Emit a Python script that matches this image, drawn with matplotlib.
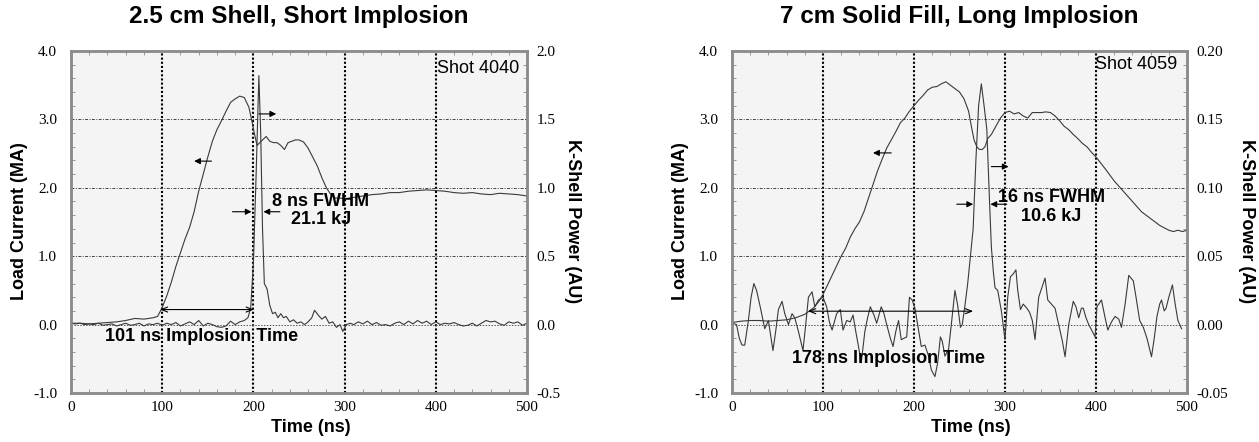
import matplotlib
matplotlib.use('Agg')
import matplotlib.pyplot as plt
from matplotlib.ticker import MultipleLocator, FormatStrFormatter

plt.rcParams['axes.unicode_minus'] = False

# Shot 4040 (2.5 cm shell) - load current (MA) vs time (ns)
cur1_t = [0, 10, 20, 30, 40, 50, 60, 70, 80, 90, 95, 100, 105, 110, 115, 120, 125, 130, 135,
          140, 145, 150, 155, 160, 165, 170, 175, 180, 185, 190, 195, 198, 201, 204, 207, 210,
          214, 218, 222, 226, 230, 234, 238, 242, 246, 250, 255, 260, 265, 270, 275, 280, 285,
          290, 295, 300, 310, 320, 330, 340, 350, 360, 370, 380, 390, 400, 410, 420, 430, 440,
          450, 460, 470, 480, 490, 500]
cur1 = [0.02, 0.02, 0.01, 0.02, 0.03, 0.04, 0.06, 0.09, 0.08, 0.10, 0.12, 0.25, 0.42, 0.62,
        0.85, 1.05, 1.25, 1.42, 1.65, 1.95, 2.20, 2.45, 2.68, 2.85, 2.98, 3.12, 3.25, 3.30,
        3.34, 3.32, 3.18, 3.00, 2.80, 2.62, 2.66, 2.70, 2.75, 2.68, 2.66, 2.66, 2.62, 2.56,
        2.66, 2.68, 2.70, 2.70, 2.67, 2.58, 2.45, 2.32, 2.15, 2.00, 1.90, 1.85, 1.85, 1.84,
        1.86, 1.88, 1.90, 1.91, 1.93, 1.93, 1.95, 1.96, 1.97, 1.96, 1.95, 1.93, 1.92, 1.93,
        1.91, 1.90, 1.92, 1.91, 1.90, 1.88]

# Shot 4040 - K-shell power (AU)
pow1_t = [0, 5, 10, 15, 20, 25, 30, 35, 40, 45, 50, 55, 60, 65, 70, 75, 80, 85, 90, 95, 100,
          105, 110, 115, 120, 125, 130, 135, 140, 145, 150, 155, 160, 165, 170, 175, 180, 185,
          190, 194, 197, 200, 203, 206, 208, 210, 212, 215, 218, 221, 224, 227, 230, 233, 236,
          240, 244, 248, 252, 256, 260, 264, 267, 271, 275, 279, 283, 287, 291, 295, 298, 302,
          306, 310, 315, 320, 325, 330, 335, 340, 345, 350, 355, 360, 365, 370, 375, 380, 385,
          390, 395, 400, 405, 410, 415, 420, 425, 430, 435, 440, 445, 450, 455, 460, 465, 470,
          475, 480, 485, 490, 495, 500]
pow1 = [0.01, 0.005, 0.01, 0.0, 0.005, 0.0, 0.01, -0.005, 0.0, 0.005, -0.01, 0.0, 0.01, -0.005,
        0.0, 0.01, -0.01, 0.005, 0.0, 0.01, -0.005, 0.01, 0.0, 0.015, -0.01, 0.005, 0.02, 0.0,
        0.03, -0.01, 0.01, 0.0, -0.015, -0.02, -0.01, 0.025, 0.0, 0.02, 0.03, 0.05, 0.12, 0.45,
        1.10, 1.82, 1.40, 0.70, 0.30, 0.26, 0.14, 0.08, 0.09, 0.05, 0.08, 0.05, 0.06, 0.02,
        0.035, 0.01, 0.02, 0.0, 0.02, 0.05, 0.105, 0.07, 0.04, 0.06, 0.01, 0.02, -0.02, 0.0,
        -0.05, 0.0, 0.01, 0.0, 0.02, 0.005, 0.025, 0.0, 0.015, -0.005, 0.0, -0.01, 0.01, 0.02,
        0.0, 0.025, 0.005, 0.03, 0.01, 0.025, 0.0, 0.02, 0.0, 0.01, 0.005, 0.015, 0.0, -0.01,
        -0.005, 0.01, -0.01, 0.01, 0.03, 0.02, 0.025, 0.005, -0.005, 0.02, 0.01, 0.02, -0.005,
        0.01]

# Shot 4059 (7 cm solid fill) - load current (MA)
cur2_t = [0, 10, 20, 30, 40, 50, 60, 70, 80, 90, 95, 100, 105, 110, 115, 120, 125, 130, 135,
          140, 145, 150, 155, 160, 165, 170, 175, 180, 185, 190, 195, 200, 205, 210, 215, 220,
          225, 230, 235, 240, 245, 250, 255, 260, 263, 266, 269, 272, 275, 278, 281, 285, 290,
          295, 300, 305, 310, 315, 320, 325, 330, 335, 340, 345, 350, 355, 360, 365, 370, 375,
          380, 385, 390, 395, 400, 410, 420, 430, 440, 450, 460, 470, 480, 485, 490, 495, 500]
cur2 = [0.03, 0.05, 0.06, 0.06, 0.05, 0.06, 0.07, 0.10, 0.15, 0.25, 0.33, 0.44, 0.58, 0.72,
        0.86, 1.00, 1.12, 1.28, 1.40, 1.50, 1.65, 1.85, 2.05, 2.25, 2.42, 2.58, 2.70, 2.82,
        2.95, 3.02, 3.12, 3.20, 3.28, 3.35, 3.43, 3.47, 3.48, 3.52, 3.55, 3.50, 3.45, 3.40,
        3.30, 3.12, 2.90, 2.70, 2.60, 2.56, 2.56, 2.60, 2.72, 2.78, 2.90, 3.02, 3.10, 3.12,
        3.08, 3.10, 3.05, 3.02, 3.10, 3.10, 3.10, 3.11, 3.10, 3.05, 2.98, 2.90, 2.85, 2.78,
        2.72, 2.65, 2.60, 2.52, 2.45, 2.28, 2.10, 1.95, 1.80, 1.65, 1.55, 1.45, 1.38, 1.36,
        1.38, 1.36, 1.38]

# Shot 4059 - K-shell power (AU)
pow2_t = [0, 5, 8, 11, 14, 18, 21, 24, 27, 31, 36, 40, 45, 48, 51, 55, 58, 62, 66, 69, 73, 78,
          81, 84, 88, 91, 95, 100, 104, 107, 110, 115, 119, 122, 126, 130, 133, 136, 139, 142,
          146, 149, 152, 156, 159, 164, 167, 170, 174, 177, 180, 183, 186, 189, 192, 195, 198,
          201, 205, 208, 212, 216, 219, 223, 226, 229, 231, 234, 238, 241, 245, 248, 251, 253,
          256, 259, 262, 265, 268, 271, 274, 277, 280, 283, 285, 287, 289, 292, 296, 300, 303,
          306, 309, 312, 314, 317, 320, 324, 327, 330, 333, 337, 341, 344, 347, 351, 355, 359,
          363, 366, 370, 375, 378, 381, 384, 386, 389, 392, 396, 399, 401, 406, 410, 413, 417,
          421, 425, 428, 432, 436, 441, 444, 448, 452, 456, 461, 464, 467, 470, 472, 475, 477,
          480, 484, 487, 490, 494]
pow2 = [0.001, 0.0, -0.01, -0.015, -0.015, 0.003, 0.02, 0.03, 0.025, 0.013, -0.003, 0.003,
        -0.019, -0.005, 0.011, 0.017, 0.008, 0.0, 0.008, 0.005, -0.005, -0.019, 0.0, 0.02,
        0.024, 0.013, 0.018, 0.02, 0.013, 0.002, -0.004, 0.008, 0.011, -0.004, 0.003, 0.002,
        0.007, -0.005, -0.016, -0.028, -0.005, 0.005, 0.013, 0.007, 0.001, 0.013, 0.008, 0.0,
        -0.01, -0.016, -0.005, 0.003, -0.011, -0.01, -0.009, 0.02, 0.018, 0.012, -0.004,
        -0.016, -0.015, -0.023, -0.033, -0.038, -0.028, -0.009, -0.012, -0.023, -0.018, 0.0,
        0.025, 0.014, -0.002, 0.0, 0.014, 0.03, 0.05, 0.07, 0.12, 0.16, 0.176, 0.16, 0.143,
        0.09, 0.057, 0.04, 0.027, 0.025, 0.01, -0.011, 0.02, 0.035, 0.037, 0.04, 0.025, 0.011,
        0.015, 0.012, 0.009, 0.003, -0.011, 0.02, 0.028, 0.034, 0.018, 0.015, 0.012, 0.0,
        -0.012, -0.0235, 0.0, 0.017, 0.013, 0.005, 0.012, 0.012, 0.005, 0.0, -0.005, -0.009,
        0.013, 0.018, 0.005, -0.004, 0.002, 0.006, 0.004, -0.002, 0.015, 0.036, 0.032, 0.02,
        0.003, -0.002, -0.01, -0.0235, -0.01, 0.006, 0.015, 0.018, 0.01, 0.012, 0.02, 0.029,
        0.015, 0.003, -0.003]

grid_t = [100, 200, 300, 400]
cur_ticks = [-1, 0, 1, 2, 3, 4]

SANS = 'Liberation Sans'
SERIF = 'Liberation Serif'
LINE = '#3a3a3a'
SPINE = '#8c8c8c'


def draw_panel(ax, title, t_cur, cur, t_pow, pw, pow_lim, pow_step, pow_minor, pow_fmt):
    ax.set_facecolor('#f4f4f4')
    ax.set_xlim(0, 500)
    ax.set_ylim(-1, 4)

    for x in grid_t:
        ax.axvline(x, color='black', ls=(0, (1, 1)), lw=1.5, zorder=1)
    for y in [1, 2, 3]:
        ax.axhline(y, color='#444444', ls=(0, (3, 1.5, 1, 1.5)), lw=0.7, zorder=1)
    ax.axhline(0, color='#555555', ls=(0, (1.5, 1.5)), lw=0.7, zorder=1)

    ax.plot(t_cur, cur, color=LINE, lw=0.8, zorder=3)

    tw = ax.twinx()
    tw.set_ylim(pow_lim)
    tw.plot(t_pow, pw, color=LINE, lw=0.8)

    ax.set_xticks([0, 100, 200, 300, 400, 500])
    ax.set_yticks(cur_ticks)
    ax.yaxis.set_major_formatter(FormatStrFormatter('%.1f'))
    ax.xaxis.set_minor_locator(MultipleLocator(20))
    ax.yaxis.set_minor_locator(MultipleLocator(0.2))
    tw.set_yticks([pow_lim[0] + i * pow_step for i in range(6)])
    tw.yaxis.set_major_formatter(FormatStrFormatter(pow_fmt))
    tw.yaxis.set_minor_locator(MultipleLocator(pow_minor))

    ax.tick_params(axis='y', which='major', direction='in', length=0, pad=10,
                   labelsize=11, labelfontfamily=SERIF)
    ax.tick_params(axis='x', which='major', direction='in', length=0, pad=6,
                   labelsize=11, labelfontfamily=SERIF)
    ax.tick_params(which='minor', direction='in', length=3, color=SPINE, top=True)
    tw.tick_params(axis='y', which='major', direction='in', length=0, pad=7,
                   labelsize=11, labelfontfamily=SERIF)
    tw.tick_params(axis='y', which='minor', direction='in', length=3, color=SPINE)

    for a in (ax, tw):
        for s in a.spines.values():
            s.set_color(SPINE)
            s.set_linewidth(1.8)

    ax.set_title(title, fontsize=17.5, fontweight='bold', family=SANS, pad=20)
    return tw


def arrow(tw, ax, tail, tip, y, style='-|>'):
    tw.annotate('', xy=(tip, y), xytext=(tail, y), xycoords=ax.transData,
                textcoords=ax.transData,
                arrowprops=dict(arrowstyle=style, color='black', lw=0.8,
                                mutation_scale=9, shrinkA=0, shrinkB=0))


def label(tw, ax, x, y, s, bold=True, ha='center'):
    tw.text(x, y, s, transform=ax.transData, ha=ha, va='center', fontsize=13,
            family=SANS, fontweight='bold' if bold else 'normal', zorder=5)


fig = plt.figure(figsize=(12.59, 4.42), dpi=100)
W, H = 1259, 442
ax1 = fig.add_axes([71 / W, 49 / H, 456 / W, 342 / H])
ax2 = fig.add_axes([732 / W, 49 / H, 455 / W, 342 / H])

tw1 = draw_panel(ax1, '2.5 cm Shell, Short Implosion', cur1_t, cur1, pow1_t, pow1,
                 (-0.5, 2.0), 0.5, 0.1, '%.1f')
tw2 = draw_panel(ax2, '7 cm Solid Fill, Long Implosion', cur2_t, cur2, pow2_t, pow2,
                 (-0.05, 0.20), 0.05, 0.01, '%.2f')

# left panel notes
label(tw1, ax1, 492, 3.75, 'Shot 4040', bold=False, ha='right')
arrow(tw1, ax1, 154, 135, 2.39)
arrow(tw1, ax1, 206, 225, 3.08)
arrow(tw1, ax1, 177, 198, 1.65)
arrow(tw1, ax1, 229, 211, 1.65)
label(tw1, ax1, 274, 1.80, '8 ns FWHM')
label(tw1, ax1, 274, 1.54, '21.1 kJ')
arrow(tw1, ax1, 97.5, 200.5, 0.22, style='<->,head_length=0.5,head_width=0.2')
label(tw1, ax1, 143.5, -0.17, '101 ns Implosion Time')

# right panel notes
label(tw2, ax2, 489, 3.8, 'Shot 4059', bold=False, ha='right')
arrow(tw2, ax2, 175, 155, 2.51)
arrow(tw2, ax2, 285, 304, 2.31)
arrow(tw2, ax2, 247, 265, 1.76)
arrow(tw2, ax2, 302, 284, 1.76)
label(tw2, ax2, 351, 1.86, '16 ns FWHM')
label(tw2, ax2, 351, 1.58, '10.6 kJ')
arrow(tw2, ax2, 83.5, 265, 0.196, style='<->,head_length=0.5,head_width=0.2')
label(tw2, ax2, 172, -0.5, '178 ns Implosion Time')

# axis titles
for xc, yl_x, yr_x in [(311, 19.5, 572.5), (971, 680.5, 1246.5)]:
    fig.text(xc / W, 1 - 427 / H, 'Time (ns)', ha='center', va='center',
             fontsize=13, fontweight='bold', family=SANS)
    fig.text(yl_x / W, 1 - 221 / H, 'Load Current (MA)', rotation=90, ha='center',
             va='center', fontsize=13, fontweight='bold', family=SANS)
    fig.text(yr_x / W, 1 - 221 / H, 'K-Shell Power (AU)', rotation=-90, ha='center',
             va='center', fontsize=13, fontweight='bold', family=SANS)

fig.savefig('out.png', dpi=100)
